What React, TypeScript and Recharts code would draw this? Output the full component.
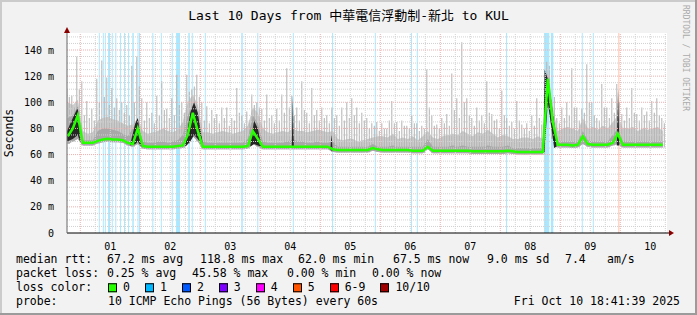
import {
  Area,
  Bar,
  ComposedChart,
  Line,
  ReferenceArea,
  ReferenceDot,
  ReferenceLine,
  XAxis,
  YAxis,
} from "recharts"

const MONO = '"DejaVu Sans Mono", "Noto Sans CJK TC", monospace'

// time axis in hours since Oct 01 00:00, one sample every 2 hours
const startHour = -5
const stepHours = 2
const xMin = -5.32
const xMax = 234.68
const yMax = 153

// median rtt (ms)
const medianRtt = [
  74, 80, 90, 69, 69, 69, 70.5, 71.5, 72, 71.5,
  71.5, 71, 69, 68, 80, 66.5, 66, 66, 66, 66,
  66, 66, 66.5, 67, 75, 92, 78, 66, 66, 66,
  66, 66, 66, 66, 66, 66, 66.5, 78, 72, 66,
  66, 66, 66, 66, 66, 66, 66, 66, 66, 66,
  66, 66, 66, 64, 63.5, 63.5, 63.5, 63.5, 63.5, 63.5,
  63.5, 65, 64, 63.5, 63.5, 63.5, 63.5, 63.5, 63.5, 63,
  63, 63, 66, 63, 63, 63, 63, 63, 63, 63,
  63, 62.5, 62.5, 62.5, 62.5, 62.5, 62.5, 62.5, 63, 62.5,
  62, 62, 62, 62, 62, 62, 118, 85, 67.5, 67.5,
  67.5, 67, 67.5, 74, 68, 67.5, 67.5, 67.5, 67.5, 69,
  76, 67.5, 67.5, 67.5, 67.5, 67.5, 67.5, 67.5, 67.5, 67.5,
]

// lowest ping of each sample (ms)
const minPing = [
  68, 70, 72, 67, 67, 67, 68.5, 69.5, 70, 69.5,
  69.5, 69, 67, 66, 68, 64.5, 64, 64, 64, 64,
  64, 64, 64.5, 65, 68, 74, 70, 64, 64, 64,
  64, 64, 64, 64, 64, 64, 64.5, 68, 66, 64,
  64, 64, 64, 64, 64, 64, 64, 64, 64, 64,
  64, 64, 64, 62, 61.5, 61.5, 61.5, 61.5, 61.5, 61.5,
  61.5, 63, 62, 61.5, 61.5, 61.5, 61.5, 61.5, 61.5, 61,
  61, 61, 64, 61, 61, 61, 61, 61, 61, 61,
  61, 60.5, 60.5, 60.5, 60.5, 60.5, 60.5, 60.5, 61, 60.5,
  60, 60, 60, 60, 60, 60, 100, 72, 65.5, 65.5,
  65.5, 65, 65.5, 68, 66, 65.5, 65.5, 65.5, 65.5, 67,
  68, 65.5, 65.5, 65.5, 65.5, 65.5, 65.5, 65.5, 65.5, 65.5,
]

// top of the dense light smoke (ms)
const smokeTop = [
  100, 98, 102, 78, 76, 77, 86, 88, 89, 87,
  86, 84, 82, 83, 88, 78, 76, 77, 78, 80,
  78, 77, 79, 85, 100, 106, 98, 77, 77, 76,
  77, 78, 77, 76, 77, 78, 82, 96, 92, 80,
  77, 76, 77, 78, 77, 80, 78, 78, 77, 78,
  79, 78, 77, 78, 72, 71, 72, 72, 70, 71,
  72, 73, 74, 74, 73, 76, 72, 73, 72, 74,
  71, 74, 78, 73, 72, 74, 75, 76, 75, 78,
  76, 74, 77, 76, 79, 76, 73, 75, 74, 72,
  72, 73, 73, 72, 74, 72, 126, 96, 78, 80,
  81, 80, 78, 88, 80, 81, 79, 82, 80, 85,
  90, 80, 80, 81, 78, 80, 79, 80, 81, 78,
]

// top of the mid grey smoke around the median (ms)
const midTop = [
  88, 90, 97, 71, 71, 71, 78, 80, 80, 79,
  78, 76, 74, 80, 86, 70, 69, 69, 70, 70,
  69, 70, 71, 75, 90, 98, 88, 70, 69, 69,
  69, 69, 69, 69, 69, 69, 72, 90, 84, 70,
  69, 69, 69, 69, 70, 72, 70, 70, 69, 69,
  70, 69, 69, 70, 66, 66, 66, 66, 66, 66,
  66, 68, 66, 66, 66, 67, 66, 66, 66, 66,
  66, 66, 72, 66, 66, 66, 66, 67, 66, 67,
  66, 66, 66, 66, 67, 66, 66, 66, 67, 65,
  65, 65, 65, 65, 65, 65, 122, 90, 70, 70,
  70, 70, 70, 78, 71, 70, 70, 70, 70, 75,
  80, 70, 70, 70, 70, 70, 70, 70, 70, 70,
]

// second highest ping of each sample (ms)
const secondPing = [
  104, 96, 110, 90, 88, 86, 100, 104, 98, 96,
  94, 92, 90, 100, 112, 86, 88, 84, 90, 94,
  88, 90, 98, 92, 108, 112, 104, 86, 84, 88,
  84, 88, 82, 86, 92, 84, 86, 98, 96, 86,
  88, 84, 86, 92, 96, 90, 86, 94, 84, 90,
  86, 88, 84, 88, 82, 86, 88, 90, 84, 86,
  80, 82, 78, 80, 86, 84, 78, 82, 80, 84,
  78, 80, 96, 82, 80, 84, 82, 94, 88, 100,
  90, 82, 86, 84, 92, 86, 80, 90, 82, 80,
  86, 80, 78, 82, 88, 80, 128, 104, 84, 88,
  90, 96, 86, 92, 100, 90, 86, 96, 88, 92,
  100, 86, 88, 92, 86, 90, 86, 92, 90, 84,
]

// highest ping of each sample (ms)
const maxPing = [
  110, 105, 135, 116, 101, 95, 118, 132, 119, 111,
  103, 100, 98, 128, 135, 103, 100, 92, 105, 116,
  95, 103, 121, 100, 121, 110, 121, 100, 97, 94,
  91, 96, 96, 88, 111, 90, 93, 106, 100, 95,
  106, 90, 95, 106, 126, 105, 96, 116, 92, 111,
  94, 96, 90, 96, 90, 96, 100, 103, 96, 92,
  88, 84, 85, 84, 80, 101, 85, 86, 82, 90,
  84, 82, 125, 90, 83, 88, 91, 122, 103, 146,
  103, 88, 96, 90, 116, 91, 87, 109, 88, 85,
  101, 83, 84, 90, 103, 83, 131, 100, 88, 96,
  100, 126, 96, 95, 129, 100, 88, 114, 96, 103,
  114, 91, 96, 111, 91, 96, 93, 101, 103, 88,
]

// black cores of the latency bursts: [hour, low ms, high ms]
const bursts = [
  [[-5.3, 70, 78], [-3, 72, 88], [-1, 75, 96], [0, 69, 72]],
  [[20, 67, 68], [22, 68, 84], [23, 70, 88], [24.5, 66, 68]],
  [[42, 66, 68], [44, 70, 92], [45.5, 75, 100], [47, 72, 92], [49, 66, 68]],
  [[68, 66, 67], [69.5, 68, 86], [71, 67, 80], [72.5, 66, 67]],
  [[84.6, 66, 67], [85, 66, 105], [85.4, 66, 67]],
  [[100.1, 64, 66], [100.5, 63, 76], [100.9, 63, 64]],
  [[185.2, 62, 63], [185.7, 62, 125], [187, 100, 118], [188.5, 80, 100], [189.5, 65, 85], [190.5, 66, 68]],
  [[214.6, 67, 68], [215.1, 67, 110], [215.6, 67, 70]],
]

// periods with packet loss: [from hour, to hour, lost pings]
const lossPeriods = [
  [7.4, 7.8, 1], [9.0, 9.4, 1], [9.8, 10.2, 1], [11.1, 11.9, 1],
  [12.6, 13.0, 1], [14.0, 14.4, 1], [15.9, 16.3, 1], [17.5, 17.9, 1],
  [19.1, 19.5, 1], [20.8, 21.4, 1], [22.9, 23.3, 1], [23.5, 23.9, 1],
  [28.8, 29.2, 1], [32.2, 32.6, 1], [36.6, 37.0, 1], [38.3, 39.9, 1],
  [43.2, 43.8, 1], [44.6, 45.0, 1], [49.8, 50.2, 1], [64.4, 65.0, 1],
  [70.8, 71.2, 1], [85.0, 85.4, 1], [100.7, 101.1, 1], [117.8, 118.2, 1],
  [132.3, 132.7, 1], [134.6, 135.0, 1], [170.3, 170.7, 1], [185.5, 187.6, 1],
  [188.2, 189.2, 1], [200.6, 201.0, 1], [205.0, 205.4, 1], [215.2, 215.6, 5],
]

const lossColors: Record<number, string> = {
  0: "#26ff00",
  1: "#00b8ff",
  2: "#0059ff",
  3: "#7e00ff",
  4: "#ff00ff",
  5: "#ff5500",
  6: "#ff0000",
  10: "#a10000",
}

const lossLegend = [
  ["0", lossColors[0]],
  ["1", lossColors[1]],
  ["2", lossColors[2]],
  ["3", lossColors[3]],
  ["4", lossColors[4]],
  ["5", lossColors[5]],
  ["6-9", lossColors[6]],
  ["10/10", lossColors[10]],
]

const dayLabels = ["01", "02", "03", "04", "05", "06", "07", "08", "09", "10"]
const dayTicks = [12, 36, 60, 84, 108, 132, 156, 180, 204, 228]
const yTicks = [0, 20, 40, 60, 80, 100, 120, 140]

const rttStats = ["67.2 ms avg", "118.8 ms max", "62.0 ms min", "67.5 ms now", "9.0 ms sd", "7.4", "am/s"]
const lossStats = ["0.25 % avg", "45.58 % max", "0.00 % min", "0.00 % now"]
const title = "Last 10 Days from 中華電信浮動制-新北 to KUL"
const probeText = "10 ICMP Echo Pings (56 Bytes) every 60s"
const stamp = "Fri Oct 10 18:41:39 2025"

const data = medianRtt.map((med, i) => ({
  t: startHour + i * stepHours,
  med,
  lo: minPing[i],
  smoke: smokeTop[i],
  mid: midTop[i],
  hi2: secondPing[i],
  hi: maxPing[i],
}))

const burstData = bursts.map((b) => b.map(([t, lo, hi]) => ({ t, lo, hi })))

// grid positions
const majorHours: number[] = []
const minorHours: number[] = []
for (let h = 0; h <= 234; h += 6) (h % 24 === 0 ? majorHours : minorHours).push(h)
const majorVals: number[] = []
const minorVals: number[] = []
for (let v = 5; v <= 150; v += 5) (v % 20 === 0 ? majorVals : minorVals).push(v)

const rttX = [107, 200, 298, 393, 487, 565, 607]
const lossX = [107, 192, 287, 372]

const Txt = ({ x, y, size = 11.5, children }: any) => (
  <div
    style={{
      position: "absolute",
      left: x,
      top: y,
      transform: "translateY(-50%)",
      fontSize: size,
      lineHeight: `${size}px`,
      whiteSpace: "pre",
    }}
  >
    {children}
  </div>
)

const arrowRight = (p: any) => (
  <g>
    <line x1={p.cx} y1={p.cy} x2={p.cx + 3} y2={p.cy} stroke="#000" />
    <path d={`M${p.cx + 2},${p.cy - 3} L${p.cx + 7},${p.cy} L${p.cx + 2},${p.cy + 3} Z`} fill="#8a0000" />
  </g>
)

const arrowUp = (p: any) => (
  <path d={`M${p.cx - 3},${p.cy} L${p.cx},${p.cy - 6} L${p.cx + 3},${p.cy} Z`} fill="#8a0000" />
)

export default function App() {
  return (
    <div
      style={{
        position: "absolute",
        left: 0,
        top: 0,
        width: 697,
        height: 315,
        background: "#f2f2f2",
        fontFamily: MONO,
        color: "#000",
        overflow: "hidden",
      }}
    >
      <ComposedChart
        width={697}
        height={315}
        data={data}
        barGap={1.5}
        margin={{ top: 33, right: 30, bottom: 62, left: 7 }}
      >
        <XAxis
          dataKey="t"
          type="number"
          domain={[xMin, xMax]}
          allowDataOverflow
          ticks={dayTicks}
          interval={0}
          tickFormatter={(v) => dayLabels[dayTicks.indexOf(v)]}
          tickLine={false}
          axisLine={{ stroke: "#000" }}
          height={20}
          tickMargin={4}
          tick={{ fontSize: 10, fill: "#000", fontFamily: MONO }}
        />
        <XAxis xAxisId="burst" dataKey="t" type="number" domain={[xMin, xMax]} allowDataOverflow hide />
        <YAxis
          type="number"
          domain={[0, yMax]}
          allowDataOverflow
          ticks={yTicks}
          interval={0}
          width={60}
          tickFormatter={(v) => (v === 0 ? "0" : `${v} m`)}
          tickLine={false}
          axisLine={{ stroke: "#666" }}
          tickMargin={7}
          tick={{ fontSize: 10, fill: "#000", fontFamily: MONO }}
        />
        <ReferenceArea x1={xMin} x2={xMax} y1={0} y2={yMax} fill="#ffffff" fillOpacity={1} stroke="none" zIndex={1} />
        {lossPeriods.map(([a, b, n], i) => (
          <ReferenceArea
            key={"loss" + i}
            x1={a}
            x2={b}
            fill={lossColors[n]}
            fillOpacity={0.33}
            stroke="none"
            zIndex={2}
          />
        ))}
        <Area
          type="linear"
          dataKey={(d: any) => [d.lo, d.smoke]}
          fill="#cdcdcd"
          fillOpacity={1}
          stroke="none"
          isAnimationActive={false}
          zIndex={3}
        />
        <Bar
          dataKey={(d: any) => [d.lo, d.hi]}
          barSize={1}
          fill="#b2b2b2"
          isAnimationActive={false}
          zIndex={4}
        />
        <Bar
          dataKey={(d: any) => [d.lo, d.hi2]}
          barSize={1}
          fill="#b2b2b2"
          isAnimationActive={false}
          zIndex={4}
        />
        <Area
          type="linear"
          dataKey={(d: any) => [d.lo, d.mid]}
          fill="#a8a8a8"
          fillOpacity={1}
          stroke="none"
          isAnimationActive={false}
          zIndex={5}
        />
        {burstData.map((b, i) => (
          <Area
            key={"burst" + i}
            xAxisId="burst"
            data={b}
            type="linear"
            dataKey={(d: any) => [d.lo, d.hi]}
            fill="#262626"
            fillOpacity={1}
            stroke="none"
            isAnimationActive={false}
            zIndex={5}
          />
        ))}
        {minorHours.map((h) => (
          <ReferenceLine key={"mh" + h} x={h} stroke="#d2d2d2" strokeDasharray="1 1" zIndex={6} />
        ))}
        {minorVals.map((v) => (
          <ReferenceLine key={"mv" + v} y={v} stroke="#d2d2d2" strokeDasharray="1 1" zIndex={6} />
        ))}
        {majorHours.map((h) => (
          <ReferenceLine key={"Mh" + h} x={h} stroke="#eeb0b0" strokeDasharray="1 1" zIndex={7} />
        ))}
        {majorVals.map((v) => (
          <ReferenceLine key={"Mv" + v} y={v} stroke="#eeb0b0" strokeDasharray="1 1" zIndex={7} />
        ))}
        <Line
          type="linear"
          dataKey="med"
          stroke={lossColors[0]}
          strokeWidth={2.5}
          dot={false}
          isAnimationActive={false}
          zIndex={8}
        />
        <ReferenceDot x={xMax} y={0} r={0} ifOverflow="visible" shape={arrowRight} zIndex={9} />
        <ReferenceDot x={xMin} y={yMax} r={0} ifOverflow="visible" shape={arrowUp} zIndex={9} />
      </ComposedChart>

      <div style={{ position: "absolute", left: 0, top: 15, width: 697, textAlign: "center", transform: "translateY(-50%)", fontSize: 13, lineHeight: "13px", whiteSpace: "pre" }}>
        {title}
      </div>
      <div style={{ position: "absolute", left: 10, top: 133, transform: "translate(-50%, -50%) rotate(-90deg)", fontSize: 11.5, lineHeight: "11.5px", whiteSpace: "pre" }}>
        Seconds
      </div>
      <div style={{ position: "absolute", left: 685, top: 58, transform: "translate(-50%, -50%) rotate(90deg)", fontSize: 8, lineHeight: "8px", color: "#aaaaaa", whiteSpace: "pre" }}>
        RRDTOOL / TOBI OETIKER
      </div>

      <Txt x={16} y={260}>median rtt:</Txt>
      {rttStats.map((s, i) => (
        <Txt key={"r" + i} x={rttX[i]} y={260}>{s}</Txt>
      ))}
      <Txt x={16} y={274}>packet loss:</Txt>
      {lossStats.map((s, i) => (
        <Txt key={"l" + i} x={lossX[i]} y={274}>{s}</Txt>
      ))}
      <Txt x={16} y={288}>loss color:</Txt>
      <div style={{ position: "absolute", left: 108, top: 288, transform: "translateY(-50%)", display: "flex", alignItems: "center", fontSize: 11.5, lineHeight: "11.5px", whiteSpace: "pre" }}>
        {lossLegend.map(([label, color]) => (
          <span key={label} style={{ display: "flex", alignItems: "center", marginRight: 15 }}>
            <span style={{ width: 7, height: 7, border: "1px solid #000", background: color, marginRight: 6 }} />
            {label}
          </span>
        ))}
      </div>
      <Txt x={16} y={302}>probe:</Txt>
      <Txt x={108} y={302}>{probeText}</Txt>
      <div style={{ position: "absolute", right: 17, top: 302, transform: "translateY(-50%)", fontSize: 11.5, lineHeight: "11.5px", whiteSpace: "pre" }}>
        {stamp}
      </div>

      <div style={{ position: "absolute", left: 0, top: 0, width: 697, height: 2, background: "#cbcbcb" }} />
      <div style={{ position: "absolute", left: 0, top: 0, width: 2, height: 315, background: "#cbcbcb" }} />
      <div style={{ position: "absolute", left: 695, top: 0, width: 2, height: 315, background: "#9b9b9b" }} />
      <div style={{ position: "absolute", left: 0, top: 313, width: 697, height: 2, background: "#9b9b9b" }} />
    </div>
  )
}
